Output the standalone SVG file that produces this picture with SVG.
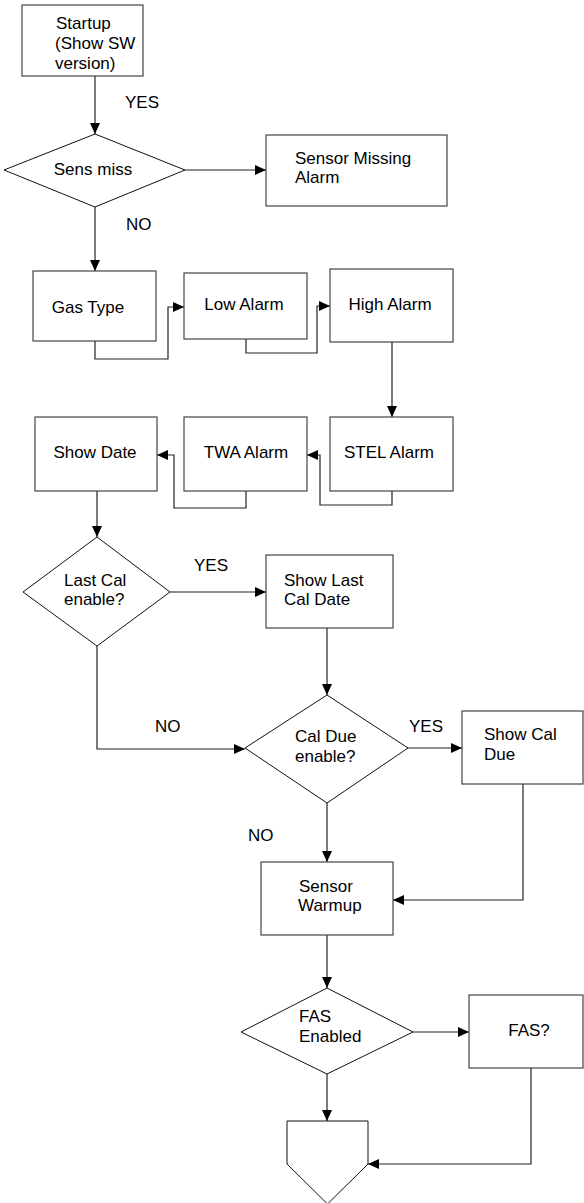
<svg xmlns="http://www.w3.org/2000/svg" width="584" height="1203" viewBox="0 0 584 1203">
<style>
.n{fill:#fff;stroke:#444;stroke-width:1.2}
.d{fill:#fff;stroke:#111;stroke-width:1}
.c{fill:none;stroke:#222;stroke-width:1.2}
text{font-family:"Liberation Sans",Arial,sans-serif;font-size:17px;fill:#000}
.m{text-anchor:middle}
</style>
<defs>
<marker id="a" viewBox="0 0 11 10" refX="11" refY="5" markerWidth="11" markerHeight="10" markerUnits="userSpaceOnUse" orient="auto">
<path d="M0,0 L11,5 L0,10 Z" fill="#000"/>
</marker>
</defs>
<g id="connectors">
<path class="c" d="M95,76 V134" marker-end="url(#a)"/>
<path class="c" d="M185,170 H266" marker-end="url(#a)"/>
<path class="c" d="M95,207 V271" marker-end="url(#a)"/>
<path class="c" d="M95,341 V359 H168 V307 H184" marker-end="url(#a)"/>
<path class="c" d="M246,339 V353 H317 V306 H330" marker-end="url(#a)"/>
<path class="c" d="M392,342 V417" marker-end="url(#a)"/>
<path class="c" d="M392,491 V505 H320 V455 H307" marker-end="url(#a)"/>
<path class="c" d="M246,491 V508 H174 V455 H157" marker-end="url(#a)"/>
<path class="c" d="M97,491 V537" marker-end="url(#a)"/>
<path class="c" d="M170,592 H266" marker-end="url(#a)"/>
<path class="c" d="M327,628 V695" marker-end="url(#a)"/>
<path class="c" d="M97,646 V749 H245" marker-end="url(#a)"/>
<path class="c" d="M408,748 H462" marker-end="url(#a)"/>
<path class="c" d="M327,803 V862" marker-end="url(#a)"/>
<path class="c" d="M523,784 V900 H393" marker-end="url(#a)"/>
<path class="c" d="M327,935 V988" marker-end="url(#a)"/>
<path class="c" d="M413,1032 H469" marker-end="url(#a)"/>
<path class="c" d="M327,1074 V1121" marker-end="url(#a)"/>
<path class="c" d="M531,1068 V1164 H368" marker-end="url(#a)"/>
<text x="125" y="108">YES</text>
<text x="126" y="230">NO</text>
<text x="194" y="571">YES</text>
<text x="155" y="732">NO</text>
<text x="409" y="732">YES</text>
<text x="248" y="841">NO</text>
</g>
<g id="startup">
<rect class="n" x="22" y="5" width="121" height="71"/>
<text x="56" y="28.5">Startup</text>
<text x="55" y="49">(Show SW</text>
<text x="55" y="69">version)</text>
</g>
<g id="sens-miss">
<polygon class="d" points="95,134 185,170 95,207 4,170"/>
<text class="m" x="93" y="175">Sens miss</text>
</g>
<g id="sensor-missing-alarm">
<rect class="n" x="266" y="135" width="181" height="71"/>
<text x="295" y="164">Sensor Missing</text>
<text x="295" y="183">Alarm</text>
</g>
<g id="gas-type">
<rect class="n" x="33" y="271" width="123" height="70"/>
<text class="m" x="88" y="313">Gas Type</text>
</g>
<g id="low-alarm">
<rect class="n" x="184" y="273" width="123" height="66"/>
<text class="m" x="244" y="310">Low Alarm</text>
</g>
<g id="high-alarm">
<rect class="n" x="330" y="269" width="123" height="73"/>
<text class="m" x="390" y="310">High Alarm</text>
</g>
<g id="stel-alarm">
<rect class="n" x="330" y="417" width="123" height="74"/>
<text class="m" x="389" y="458">STEL Alarm</text>
</g>
<g id="twa-alarm">
<rect class="n" x="184" y="417" width="123" height="74"/>
<text class="m" x="246" y="458">TWA Alarm</text>
</g>
<g id="show-date">
<rect class="n" x="35" y="417" width="122" height="74"/>
<text class="m" x="95" y="458">Show Date</text>
</g>
<g id="last-cal-enable">
<polygon class="d" points="97,537 170,592 97,646 23,592"/>
<text x="64" y="586">Last Cal</text>
<text x="64" y="605">enable?</text>
</g>
<g id="show-last-cal-date">
<rect class="n" x="266" y="555" width="127" height="73"/>
<text x="284" y="586">Show Last</text>
<text x="284" y="605">Cal Date</text>
</g>
<g id="cal-due-enable">
<polygon class="d" points="327,695 408,748 327,803 245,748"/>
<text x="295" y="742">Cal Due</text>
<text x="295" y="762">enable?</text>
</g>
<g id="show-cal-due">
<rect class="n" x="462" y="711" width="121" height="73"/>
<text x="484" y="740">Show Cal</text>
<text x="484" y="760">Due</text>
</g>
<g id="sensor-warmup">
<rect class="n" x="261" y="862" width="132" height="73"/>
<text x="299" y="892">Sensor</text>
<text x="298" y="911">Warmup</text>
</g>
<g id="fas-enabled">
<polygon class="d" points="327,988 413,1032 327,1074 241,1032"/>
<text x="299" y="1022">FAS</text>
<text x="299" y="1042">Enabled</text>
</g>
<g id="fas">
<rect class="n" x="469" y="995" width="114" height="73"/>
<text class="m" x="529" y="1036">FAS?</text>
</g>
<g id="off-page">
<polygon class="d" points="287,1121 368,1121 368,1164 327.5,1204 287,1164"/>
</g>
</svg>
